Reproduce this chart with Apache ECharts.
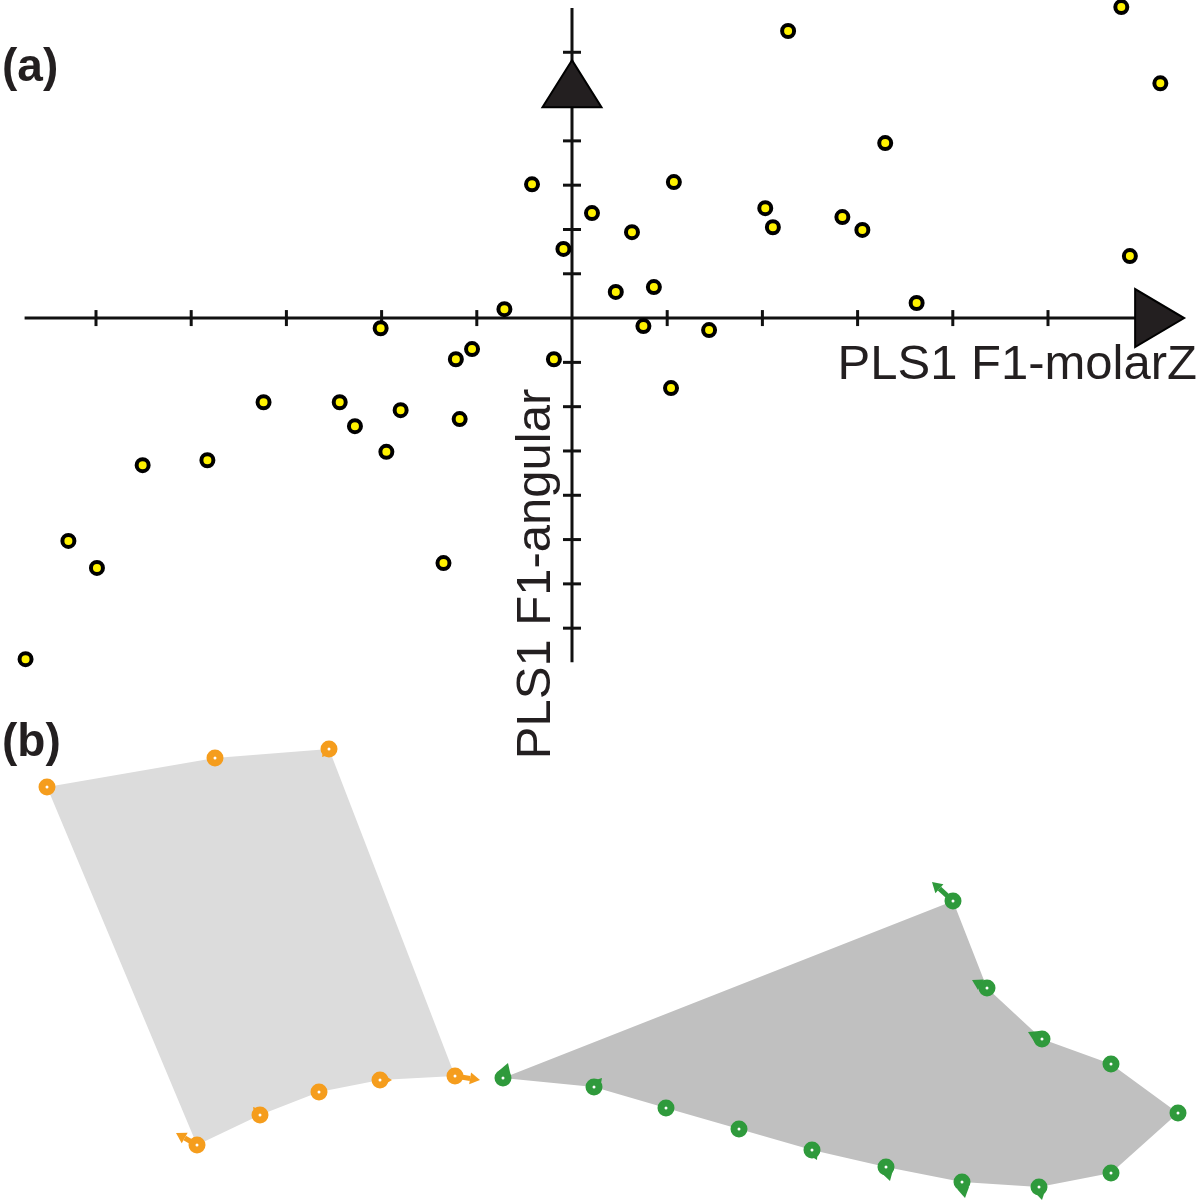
<!DOCTYPE html>
<html><head><meta charset="utf-8">
<script src="https://cdn.jsdelivr.net/npm/echarts/dist/echarts.min.js"></script>
<style>html,body{margin:0;padding:0;background:#fff}#c{width:1200px;height:1200px}</style>
</head><body><div id="c"></div>
<script>
// ---------- Panel (a): PLS scores ----------
const scoreX = [5.77, 2.27, 6.18, 3.29, -0.42, 1.07, 0.21, 2.03, 2.11, 2.84, 3.05, 0.63, -0.09, 5.86,
  0.46, 0.86, 3.62, -0.71, -2.01, 0.75, 1.44, -1.05, -1.22, -0.19, 1.04, -3.24, -2.44, -1.80,
  -2.28, -1.18, -1.95, -4.51, -3.83, -5.29, -4.99, -1.35, -5.74];
const scoreY = [7.02, 6.48, 5.30, 3.95, 3.02, 3.07, 2.37, 2.48, 2.05, 2.28, 1.99, 1.94, 1.56, 1.40,
  0.59, 0.70, 0.34, 0.20, -0.23, -0.18, -0.27, -0.70, -0.93, -0.93, -1.58, -1.90, -1.90, -2.08,
  -2.44, -2.28, -3.02, -3.32, -3.21, -5.03, -5.64, -5.53, -7.70];
const xTicks = [-5, -4, -3, -2, -1, 1, 2, 3, 4, 5];
const yTicks = [-7, -6, -5, -4, -3, -2, -1, 1, 2, 3, 4, 5, 6];
const xAxisExtent = [-5.75, 5.97];
const yAxisExtent = [-7.77, 7.0];
const xArrowTip = 6.43;
const yArrowTip = 5.82;
const xTitle = 'PLS1 F1-molarZ';
const yTitle = 'PLS1 F1-angular';
const panelLabels = ['(a)', '(b)'];

// ---------- Panel (b): shape outlines (landmarks + displacement vectors) ----------
const orangeX = [47, 215, 329, 455, 380, 319, 260, 197];
const orangeY = [87, 58, 49, 376, 380, 392, 415, 445];
const orangeDX = [0, 0, -7, 25, 12, 0, -7, -21];
const orangeDY = [0, 0, 8, 4, 0, 0, -8, -12];
const greenX = [503, 594, 666, 739, 812, 886, 962, 1039, 1111, 1178, 1111, 1042, 987, 953];
const greenY = [378, 387, 408, 429, 450, 467, 482, 487, 473, 413, 364, 339, 288, 201];
const greenDX = [5, 8, 0, 0, 5, 4, 3, 3, 0, 0, 0, -14, -15, -21];
const greenDY = [-15, -9, 0, 0, 10, 14, 16, 13, 0, 0, 0, -7, -8, -19];

const ORANGE = '#f59d1d', GREEN = '#2f9a3c';
const AXIS = '#111';
const FONT = "'Liberation Sans', Arial, sans-serif";

const chart = echarts.init(document.getElementById('c'), null, {renderer: 'canvas'});

function axesRender(params, api) {
  if (params.dataIndex !== 0) return null;
  const xa = api.coord([xAxisExtent[0], 0]), xb = api.coord([xAxisExtent[1], 0]);
  const ya = api.coord([0, yAxisExtent[0]]), yb = api.coord([0, yAxisExtent[1]]);
  const xt = api.coord([xArrowTip, 0]);
  const yt = api.coord([0, yArrowTip]);
  const children = [
    {type: 'line', shape: {x1: xa[0], y1: xa[1], x2: xb[0], y2: xb[1]}, style: {stroke: AXIS, lineWidth: 3}},
    {type: 'line', shape: {x1: ya[0], y1: ya[1], x2: yb[0], y2: yb[1]}, style: {stroke: AXIS, lineWidth: 3}}
  ];
  xTicks.forEach(v => {
    const p = api.coord([v, 0]);
    children.push({type: 'line', shape: {x1: p[0], y1: p[1] - 8, x2: p[0], y2: p[1] + 8}, style: {stroke: AXIS, lineWidth: 3}});
  });
  yTicks.forEach(v => {
    const p = api.coord([0, v]);
    children.push({type: 'line', shape: {x1: p[0] - 9, y1: p[1], x2: p[0] + 9, y2: p[1]}, style: {stroke: AXIS, lineWidth: 3}});
  });
  children.push({type: 'polygon', shape: {points: [[xt[0] - 49, xt[1] - 29], [xt[0] - 49, xt[1] + 29], [xt[0], xt[1]]]},
    style: {fill: '#231f20', stroke: '#000', lineWidth: 2}});
  children.push({type: 'polygon', shape: {points: [[yt[0], yt[1]], [yt[0] - 29.5, yt[1] + 47], [yt[0] + 29.5, yt[1] + 47]]},
    style: {fill: '#231f20', stroke: '#000', lineWidth: 2}});
  return {type: 'group', children};
}

function polygonRender(xs, ys, fill) {
  return function (params, api) {
    if (params.dataIndex !== 0) return null;
    const pts = xs.map((x, i) => api.coord([x, ys[i]]));
    return {type: 'polygon', shape: {points: pts}, style: {fill: fill}};
  };
}

function arrowRender(color) {
  return function (params, api) {
    const x = api.value(0), y = api.value(1), dx = api.value(2), dy = api.value(3);
    if (!dx && !dy) return null;
    const p = api.coord([x, y]);
    const t = api.coord([x + dx, y + dy]);
    const vx = t[0] - p[0], vy = t[1] - p[1];
    const len = Math.sqrt(vx * vx + vy * vy);
    const ux = vx / len, uy = vy / len;
    const h = Math.min(10, len), w = 6;
    const bx = t[0] - ux * h, by = t[1] - uy * h;
    const children = [];
    if (len > h) children.push({type: 'line', shape: {x1: p[0], y1: p[1], x2: bx, y2: by}, style: {stroke: color, lineWidth: 5}});
    children.push({type: 'polygon', shape: {points: [[t[0], t[1]], [bx - uy * w, by + ux * w], [bx + uy * w, by - ux * w]]}, style: {fill: color}});
    return {type: 'group', children};
  };
}

const option = {
  backgroundColor: '#fff',
  animation: false,
  grid: [
    {left: 0.8, top: 0, width: 1190, height: 15.18 * 44.3, containLabel: false},
    {left: 0, top: 700, width: 1200, height: 500, containLabel: false}
  ],
  xAxis: [
    {gridIndex: 0, type: 'value', min: -6, max: 6.5, show: false},
    {gridIndex: 1, type: 'value', min: 0, max: 1200, show: false}
  ],
  yAxis: [
    {gridIndex: 0, type: 'value', min: -8, max: 7.18, show: false},
    {gridIndex: 1, type: 'value', min: 0, max: 500, inverse: true, show: false}
  ],
  graphic: [
    {type: 'text', x: 2, y: 68, style: {text: panelLabels[0], font: 'bold 46px ' + FONT, fill: '#231f20', textAlign: 'left', textVerticalAlign: 'middle'}},
    {type: 'text', x: 2, y: 743, style: {text: panelLabels[1], font: 'bold 46px ' + FONT, fill: '#231f20', textAlign: 'left', textVerticalAlign: 'middle'}},
    {type: 'text', x: 1197, y: 365, style: {text: xTitle, font: '49px ' + FONT, fill: '#231f20', textAlign: 'right', textVerticalAlign: 'middle'}},
    {type: 'text', x: 536, y: 574, rotation: Math.PI / 2, style: {text: yTitle, font: '49px ' + FONT, fill: '#231f20', textAlign: 'center', textVerticalAlign: 'middle'}}
  ],
  series: [
    {type: 'custom', xAxisIndex: 0, yAxisIndex: 0, renderItem: axesRender, data: [[0, 0]], z: 1, silent: true},
    {type: 'scatter', xAxisIndex: 0, yAxisIndex: 0, clip: false, z: 3,
      data: scoreX.map((x, i) => [x, scoreY[i]]),
      symbol: 'circle', symbolSize: 12,
      itemStyle: {color: '#fff200', borderColor: '#000', borderWidth: 4, opacity: 1}},
    {type: 'custom', xAxisIndex: 1, yAxisIndex: 1, renderItem: polygonRender(orangeX, orangeY, '#dcdcdc'), data: [[orangeX[0], orangeY[0]]], z: 1, silent: true},
    {type: 'custom', xAxisIndex: 1, yAxisIndex: 1, renderItem: polygonRender(greenX, greenY, '#c0c0c0'), data: [[greenX[0], greenY[0]]], z: 1, silent: true},
    {type: 'custom', xAxisIndex: 1, yAxisIndex: 1, renderItem: arrowRender(ORANGE), z: 2, silent: true,
      data: orangeX.map((x, i) => [x, orangeY[i], orangeDX[i], orangeDY[i]])},
    {type: 'custom', xAxisIndex: 1, yAxisIndex: 1, renderItem: arrowRender(GREEN), z: 2, silent: true,
      data: greenX.map((x, i) => [x, greenY[i], greenDX[i], greenDY[i]])},
    {type: 'scatter', xAxisIndex: 1, yAxisIndex: 1, clip: false, z: 3,
      data: orangeX.map((x, i) => [x, orangeY[i]]), symbol: 'circle', symbolSize: 10,
      itemStyle: {color: '#fff', borderColor: ORANGE, borderWidth: 7, opacity: 1}},
    {type: 'scatter', xAxisIndex: 1, yAxisIndex: 1, clip: false, z: 3,
      data: greenX.map((x, i) => [x, greenY[i]]), symbol: 'circle', symbolSize: 10,
      itemStyle: {color: '#fff', borderColor: GREEN, borderWidth: 7, opacity: 1}}
  ]
};
chart.setOption(option);
</script></body></html>
